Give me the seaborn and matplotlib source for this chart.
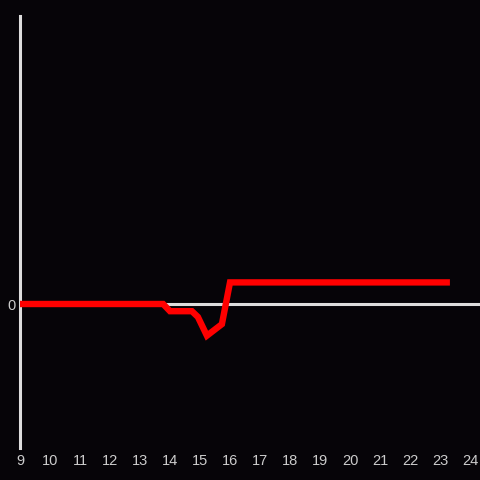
import matplotlib
matplotlib.use("Agg")
import matplotlib.pyplot as plt
import seaborn as sns

# data (hour of day vs value)
hours = [9.0, 13.77, 14.0, 14.73, 14.93, 15.23, 15.73, 16.0, 23.33]
values = [0.0, 0.0, -0.05, -0.05, -0.09, -0.22, -0.14, 0.15, 0.15]
x_ticks = list(range(9, 25))
y_ticks = [0]

bg = "#060408"
fg = "#dddddd"

sns.set_theme(style="white")
plt.rcParams["font.family"] = ["Liberation Sans", "DejaVu Sans"]

fig = plt.figure(figsize=(4.8, 4.8), dpi=100, facecolor=bg)
ax = fig.add_axes([20 / 480, 32 / 480, 460 / 480, 432 / 480])
ax.set_facecolor(bg)

ax.axhline(0, color=fg, linewidth=2.2, zorder=1)
sns.lineplot(x=hours, y=values, ax=ax, color="#ff0000", linewidth=4.6,
             solid_joinstyle="miter", solid_capstyle="butt", zorder=3)

ax.set_xlim(9, 24.333)
ax.set_ylim(-1, 2)
ax.set_xticks(x_ticks)
ax.set_xticklabels([str(t) for t in x_ticks])
ax.set_yticks(y_ticks)
ax.set_yticklabels(["0"])
ax.tick_params(axis="both", length=0, colors="#cccccc", labelsize=10.5)
ax.tick_params(axis="x", pad=4)
ax.tick_params(axis="y", pad=3)

for side in ["top", "right", "bottom"]:
    ax.spines[side].set_visible(False)
ax.spines["left"].set_color(fg)
ax.spines["left"].set_linewidth(2.2)

fig.savefig("out.png", dpi=100, facecolor=bg)
